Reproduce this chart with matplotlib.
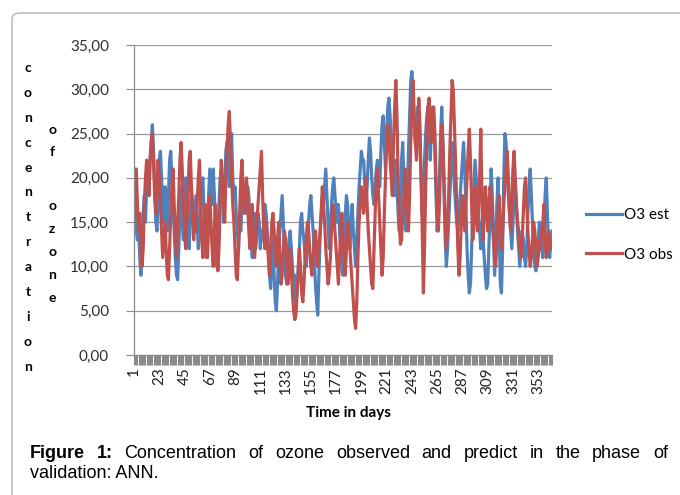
import numpy as np
import matplotlib.pyplot as plt
from matplotlib.patches import FancyBboxPatch

# O3 estimated (ANN) and observed, one value per day
o3_est = [
    21, 17, 14, 13, 15, 11, 9, 12, 16, 18,
    15, 19, 21, 18, 22, 24, 26, 23, 19, 15,
    14, 18, 22, 23, 20, 17, 15, 19, 16, 14,
    18, 22, 23, 20, 17, 14, 11, 9, 8.5, 12,
    16, 19, 15, 13, 17, 20, 18, 14, 12, 16,
    19, 17, 14, 16, 18, 15, 12, 14, 17, 19,
    20, 16, 13, 11, 15, 18, 21, 19, 17, 21,
    18, 14, 10, 13, 17, 20, 21, 18, 15, 19,
    23, 24, 21, 19, 22, 25, 20, 18, 19, 16,
    14, 12, 15, 14, 17, 19, 18, 16, 17, 19,
    18, 15, 13, 11, 14, 16, 12, 14, 16, 15,
    12, 14, 13, 15, 17, 16, 14, 12, 9, 7.5,
    11, 13, 9, 6, 5, 8, 12, 14, 16, 18,
    15, 12, 9, 8, 11, 13, 14, 12, 10, 8,
    9, 6, 7, 10, 12, 15, 16, 14, 13, 11,
    10, 12, 15, 17, 18, 16, 14, 11, 8, 6,
    4.5, 9, 13, 16, 18, 17, 19, 21, 18, 15,
    12, 14, 17, 19, 20, 18, 16, 15, 17, 14,
    12, 10, 9, 12, 16, 18, 17, 14, 12, 15,
    17, 14, 12, 10, 13, 16, 19, 21, 23, 22,
    22, 19, 17, 19, 22, 24.5, 23, 20, 18, 17,
    19, 21, 22, 20, 19, 23, 26, 27, 24, 21,
    25, 28, 29, 27, 24, 22, 20, 18, 22, 19,
    16, 14, 17, 22, 24, 20, 15, 14, 18, 23,
    27, 31, 32, 30, 26, 24, 25, 28, 27, 24,
    20, 16, 18, 22, 25, 27, 28, 25, 22, 26,
    28, 27, 23, 18, 14, 16, 20, 25, 28, 24,
    18, 13, 10, 12, 15, 18, 21, 24, 22, 19,
    17, 15, 14, 16, 18, 20, 22, 24, 21, 17,
    12, 9, 7, 8, 12, 16, 19, 22, 20, 18,
    16, 14, 12, 15, 13, 11, 9, 7.5, 8, 12,
    16, 21, 18, 14, 9, 12, 17, 20, 14, 8,
    7, 12, 20, 25, 24, 21, 18, 16, 14, 12,
    15, 18, 19, 17, 14, 12, 10, 12, 14, 13,
    11, 10, 12, 16, 19, 21, 18, 15, 12, 10,
    9.5, 11, 13, 15, 14, 12, 11, 14, 18, 20,
    16, 12, 11, 13, 14,
]
o3_obs = [
    15, 19, 21, 17, 14, 16, 13, 10, 12, 17,
    20, 22, 21, 18, 22, 24, 25, 22, 18, 16,
    19, 22, 20, 17, 14, 11, 13, 15, 12, 9,
    8.5, 12, 16, 19, 21, 17, 13, 11, 15, 18,
    22, 24, 21, 17, 14, 12, 15, 18, 22, 23,
    19, 15, 13, 16, 14, 17, 20, 22, 18, 13,
    11, 14, 17, 13, 11, 15, 18, 15, 12, 10,
    14, 17, 13, 9.5, 12, 17, 22, 20, 17, 15,
    20, 23, 26, 27.5, 24, 20, 17, 15, 12, 9,
    8.5, 12, 16, 20, 22, 19, 16, 18, 20, 17,
    14, 12, 15, 17, 13, 11, 13, 15, 17, 19,
    21, 23, 18, 14, 12, 15, 13, 11, 9, 12,
    15, 16, 14, 12, 10, 13, 15, 11, 8, 9,
    12, 14, 13, 11, 8, 9, 12, 10, 7, 5,
    4, 4.5, 7, 9, 12, 10, 7, 6, 8, 11,
    13, 15, 14, 12, 10, 9, 11, 13, 14, 12,
    10, 12, 14, 16, 19, 17, 15, 12, 10, 8,
    9, 11, 14, 17, 16, 14, 12, 10, 8, 11,
    14, 16, 13, 11, 9, 12, 15, 14, 12, 10,
    8, 6, 4, 3, 6, 11, 15, 17, 19, 18,
    16, 18, 20, 17, 14, 12, 10, 8, 7.5, 12,
    16, 20, 21, 18, 15, 12, 9, 11, 16, 20,
    24, 26, 25, 22, 20, 18, 24, 28, 31, 27,
    20, 15, 12.5, 13, 16, 18, 21, 19, 16, 14,
    18, 24, 28, 31, 27, 24, 22, 25, 29, 26,
    20, 14, 7, 12, 19, 24, 28, 29, 26, 24,
    27, 28, 25, 20, 16, 14, 17, 22, 26, 24,
    20, 15, 12, 14, 18, 23, 27, 31, 30, 26,
    22, 17, 12, 9, 11, 15, 18, 16, 14, 17,
    20, 23, 25.5, 22, 17, 13, 15, 19, 17, 14,
    16, 20, 25.5, 18, 13, 16, 19, 17, 14, 16,
    19, 18, 15, 13, 11, 10, 13, 16, 18, 15,
    12, 14, 17, 19, 21, 23, 20, 16, 14, 17,
    21, 23, 20, 17, 15, 14, 12, 11, 13, 16,
    19, 20, 17, 14, 12, 10, 11, 13, 15, 14,
    12, 10, 11, 13, 12, 14, 15, 17, 13, 11,
    12, 14, 13, 12, 12,
]
days = np.arange(1, len(o3_est) + 1)
label_days = list(range(1, 354, 22))

W, H = 680, 495
def fx(x):
    return x / W
def fy(y):
    return 1 - y / H

fig = plt.figure(figsize=(6.8, 4.95), dpi=100)
ax = fig.add_axes([fx(134), fy(355), fx(552) - fx(134), fy(45) - fy(355)])

ax.plot(days, o3_est, color='#4F81BD', lw=2.3, label='O3 est', solid_joinstyle='round')
ax.plot(days, o3_obs, color='#C0504D', lw=2.3, label='O3 obs', solid_joinstyle='round')

ax.set_xlim(1, len(days))
ax.set_ylim(0, 35)
ax.set_yticks(np.arange(0, 36, 5))
ax.set_yticklabels([f'{v:.2f}'.replace('.', ',') for v in np.arange(0, 36, 5)],
                   fontfamily='Lato', fontsize=11, color='#303030')
ax.set_xticks(days)
ax.set_xticklabels([str(d) if d in label_days else '' for d in days],
                   rotation=90, fontfamily='Lato', fontsize=11, color='#202020')
ax.tick_params(axis='x', length=7, width=0.8, color='#8c8c8c', pad=2)
ax.tick_params(axis='y', length=6, width=0.8, color='#8c8c8c', pad=12)
ax.grid(axis='y', color='#9a9a9a', lw=0.9)
ax.set_axisbelow(True)
for s in ['top', 'right']:
    ax.spines[s].set_visible(False)
for s in ['left', 'bottom']:
    ax.spines[s].set_color('#8c8c8c')
    ax.spines[s].set_linewidth(0.9)

fig.text(fx(348), fy(413), 'Time in days', ha='center', va='center',
         fontfamily='Lato', fontweight='bold', fontsize=11)

# stacked y label
for i, ch in enumerate('concentration'):
    fig.text(fx(28), fy(68 + i * 24.9), ch, ha='center', va='center',
             fontfamily='Lato', fontweight='bold', fontsize=10)
for ch, y in zip('ofozone', [130, 152, 206, 229, 252, 275, 298]):
    fig.text(fx(52), fy(y), ch, ha='center', va='center',
             fontfamily='Lato', fontweight='bold', fontsize=10)

fig.legend(loc='center left', bbox_to_anchor=(fx(572), fy(235)), frameon=False,
           prop={'family': 'Lato', 'size': 11}, handlelength=2.4,
           handletextpad=0.1, labelspacing=1.65)

# caption, first line justified
renderer = fig.canvas.get_renderer()
words = 'Figure 1: Concentration of ozone observed and predict in the phase of'.split()
texts = []
for i, w in enumerate(words):
    t = fig.text(0, fy(458), w, ha='left', va='baseline', fontfamily='Liberation Sans',
                 fontsize=13, fontweight='bold' if i < 2 else 'normal')
    texts.append(t)
widths = [t.get_window_extent(renderer).width for t in texts]
gap = (668 - 30 - sum(widths)) / (len(words) - 1)
x = 30
for t, w in zip(texts, widths):
    t.set_x(fx(x))
    x += w + gap
fig.text(fx(30), fy(478), 'validation: ANN.', ha='left', va='baseline',
         fontfamily='Liberation Sans', fontsize=13)

# panel frame (top and left edges)
frame = FancyBboxPatch((fx(12), fy(520)), fx(760) - fx(12), fy(13) - fy(520),
                       boxstyle='round,pad=0,rounding_size=0.012',
                       transform=fig.transFigure, fill=False,
                       edgecolor='#c4c4c4', lw=1.3, clip_on=False)
fig.patches.append(frame)

fig.savefig('out.png', dpi=100)
